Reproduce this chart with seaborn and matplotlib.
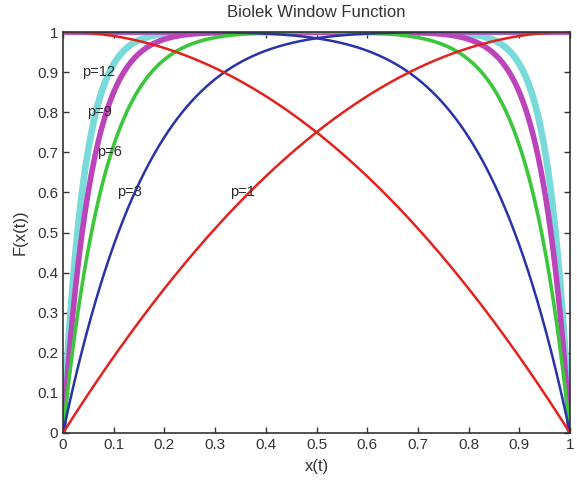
import numpy as np
import pandas as pd
import matplotlib
matplotlib.use("Agg")
import matplotlib.pyplot as plt
import seaborn as sns

# Biolek window exponents and styling per curve
p_values = [1, 3, 6, 9, 12]
colors = ["#e3221e", "#2a32a8", "#3cc63c", "#bb44bb", "#79dada"]
widths = [1.8, 1.8, 2.6, 4.0, 4.8]
label_pos = {1: (0.33, 0.60), 3: (0.107, 0.60), 6: (0.067, 0.70),
             9: (0.047, 0.80), 12: (0.037, 0.90)}

x = np.linspace(0, 1, 1001)
rows = []
for p in p_values:
    # two branches of F(x) = 1 - (x - stp(-i))^(2p)
    for branch, shift in (("up", 1.0), ("down", 0.0)):
        rows.append(pd.DataFrame({"x": x, "F": 1 - (x - shift) ** (2 * p),
                                  "p": p, "branch": branch}))
df = pd.concat(rows, ignore_index=True)

sns.set_style("white")
plt.rcParams["font.family"] = ["Liberation Sans", "DejaVu Sans"]

fig = plt.figure(figsize=(5.77, 4.83), dpi=100)
ax = fig.add_axes([63 / 577, 50 / 483, 507 / 577, 401 / 483])

for p, c, lw in zip(reversed(p_values), reversed(colors), reversed(widths)):
    sub = df[df.p == p]
    sns.lineplot(data=sub, x="x", y="F", units="branch", estimator=None,
                 color=c, linewidth=lw, ax=ax, legend=False)

for p in p_values:
    tx, ty = label_pos[p]
    ax.text(tx, ty, f"p={p}", fontsize=10.5, va="center", ha="left", color="#2a2a2a")

ax.set_xlim(0, 1)
ax.set_ylim(0, 1)
ax.set_xticks(np.arange(0, 1.01, 0.1))
ax.set_yticks(np.arange(0, 1.01, 0.1))
ax.set_xticklabels(["0", "0.1", "0.2", "0.3", "0.4", "0.5", "0.6", "0.7", "0.8", "0.9", "1"])
ax.set_yticklabels(["0", "0.1", "0.2", "0.3", "0.4", "0.5", "0.6", "0.7", "0.8", "0.9", "1"])
ax.tick_params(direction="in", length=4, width=1, labelsize=11, colors="#333333",
               top=True, right=True, bottom=True, left=True)
for s in ax.spines.values():
    s.set_color("#333333")
    s.set_linewidth(1.2)
ax.set_xlabel("x(t)", fontsize=12, color="#333333", labelpad=5)
ax.set_ylabel("F(x(t))", fontsize=12, color="#333333", labelpad=7)
ax.set_title("Biolek Window Function", fontsize=12, color="#333333", pad=11)

fig.savefig("out.png", dpi=100)
